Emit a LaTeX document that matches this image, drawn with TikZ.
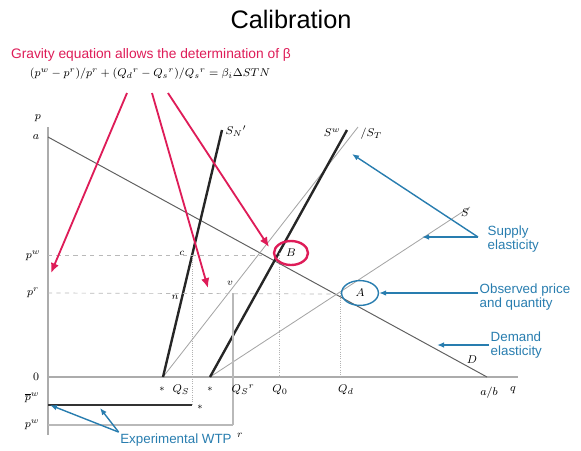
\documentclass[tikz,border=0pt]{standalone}
\usepackage{fontspec}
\setmainfont{Liberation Sans}
\usepackage{xcolor}
\usepackage{tikz}
\usetikzlibrary{arrows.meta,positioning,shapes.geometric,calc}

\definecolor{gravred}{RGB}{222,28,88}
\definecolor{noteblue}{RGB}{40,125,175}

\begin{document}
\begin{tikzpicture}[x=0.025cm, y=-0.025cm,
    axis/.style={draw=gray!65, line width=1.1pt},
    thickS/.style={draw=black!85, line width=1.7pt},
    thinS/.style={draw=gray!70, line width=0.6pt},
    demand/.style={draw=gray!75!black, line width=0.7pt},
    guide/.style={draw=gray!55, dashed, line width=0.5pt},
    drop/.style={draw=gray!60, densely dotted, line width=0.6pt},
    redarr/.style={-{Latex[length=7pt,width=6pt]}, draw=gravred, line width=1.3pt},
    bluearr/.style={-{Latex[length=5pt,width=4pt]}, draw=noteblue, line width=1pt},
    note/.style={text=noteblue, font=\fontsize{9.5}{10.5}\selectfont, align=left, inner sep=1pt},
    lab/.style={font=\footnotesize, inner sep=1pt},
    tiny/.style={font=\scriptsize, inner sep=1pt}
]
\useasboundingbox (0,0) rectangle (581,450);

% heading and gravity equation
\node[font=\fontsize{18}{20}\selectfont] (title) at (291,19) {Calibration};
\node[text=gravred, font=\fontsize{9.8}{11}\selectfont] (grav) at (151,55) {Gravity equation allows the determination of β};
\node[font=\fontsize{8.4}{10}\selectfont] (eq) at (150,74) {$(p^{w}-p^{r})/p^{r}+({Q_{d}}^{r}-{Q_{s}}^{r})/{Q_{s}}^{r}=\beta_{i}\Delta STN$};

% axes
\coordinate (ptop) at (48,127);
\coordinate (pbot) at (48,435);
\coordinate (O) at (48,377);
\coordinate (qend) at (518,377);
\draw[axis] (ptop) -- (pbot);
\draw[axis] (O) -- (qend);

\node[lab] (plab) at (38,118) {$p$};
\node[lab] (alab) at (36,137) {$a$};
\node[lab] (zero) at (36,377) {$0$};
\node[lab] (pwlab) at (33,256) {$p^{w}$};
\node[lab] (prlab) at (33,293) {$p^{r}$};
\node[lab] (pbarlab) at (32,398) {$\overline{p}^{w}$};
\node[lab] (pwlow) at (32,425) {$p^{w}$};

% demand and supply curves
\coordinate (Da) at (48,137);
\coordinate (Db) at (487,377);
\coordinate (SNb) at (163,377);
\coordinate (SNt) at (222,130);
\coordinate (Sb) at (210,377);
\coordinate (St) at (347,130);
\coordinate (STt) at (358,127);
\coordinate (SEt) at (470,207);
\draw[demand] (Da) -- (Db);
\draw[thinS] (SNb) -- (STt);
\draw[thinS] (Sb) -- (SEt);
\draw[thickS] (SNb) -- (SNt);
\draw[thickS] (Sb) -- (St);

\node[lab, anchor=west] (SNlab) at (224,131) {$S_{N}{}'$};
\node[lab, anchor=east] (Swlab) at (342,133) {$S^{w}$};
\node[lab, anchor=west] (STlab) at (359,134) {$/S_{T}$};
\node[lab] (Slab) at (465,213) {$S$};
\node[lab] (Dlab) at (472,360) {$D$};

% price levels and quantities
\coordinate (B) at (262,255);
\coordinate (A) at (335,294);
\coordinate (pwax) at (48,255);
\coordinate (prax) at (48,293);
\draw[guide] (pwax) -- (B);
\draw[guide] (prax) -- (A);
\draw[drop] (192,255) -- (192,405);
\draw[drop] (279,253) -- (279,377);
\draw[drop] (340,293) -- (340,377);
\draw[draw=gray!55, line width=0.8pt] (233,293) -- (233,425);

\node[tiny] (clab) at (182,253) {$c$};
\node[tiny] (vlab) at (230,283) {$v$};
\node[tiny] (nlab) at (175,297) {$n$};

\node[draw=gravred, line width=1.7pt, ellipse, minimum width=0.85cm, minimum height=0.6cm, font=\footnotesize, inner sep=0pt] (Bring) at (291,253) {$B$};
\node[draw=noteblue, line width=1pt, ellipse, minimum width=0.92cm, minimum height=0.62cm, font=\footnotesize, inner sep=0pt] (Aring) at (360,293) {$A$};

% quantity axis labels
\node[tiny] (st1) at (162,389) {$\ast$};
\node[lab] (QSlab) at (181,390) {$Q_{S}$};
\node[tiny] (st2) at (210,389) {$\ast$};
\node[lab] (QSrlab) at (243,390) {${Q_{S}}^{r}$};
\node[lab] (Q0lab) at (280,390) {$Q_{0}$};
\node[lab] (Qdlab) at (346,390) {$Q_{d}$};
\node[lab] (ablab) at (489,393) {$a/b$};
\node[lab] (qlab) at (513,390) {$q$};

% willingness to pay below the axis
\coordinate (wtpa) at (48,405);
\coordinate (wtpb) at (192,405);
\coordinate (wtpc) at (48,425);
\coordinate (wtpd) at (233,425);
\draw[draw=black!80, line width=1.5pt] (wtpa) -- (wtpb);
\draw[draw=gray!55, line width=1pt] (wtpc) -- (wtpd);
\node[tiny] (st3) at (200,407) {$\ast$};
\node[tiny] (rlab) at (240,435) {$r$};

% red arrows from the equation
\coordinate (r1) at (127,93);
\coordinate (r2) at (152,93);
\coordinate (r3) at (168,93);
\coordinate (e1) at (51,273);
\coordinate (e2) at (208,288);
\coordinate (e3) at (269,247);
\draw[redarr] (r1) -- (e1);
\draw[redarr] (r2) -- (e2);
\draw[redarr] (r3) -- (e3);

% blue notes
\node[note, anchor=west] (suptxt) at (486,239) {Supply\\elasticity};
\node[note, anchor=west] (obstxt) at (478,297) {Observed price\\and quantity};
\node[note, anchor=west] (demtxt) at (489,345) {Demand\\elasticity};
\node[note] (wtptxt) at (176,440) {Experimental WTP};

\coordinate (supTip) at (478,237);
\draw[bluearr] (supTip) -- (422,237);
\draw[bluearr] (supTip) -- (352,154);
\draw[bluearr] (478,293) -- (Aring.east);
\draw[bluearr] (demtxt.west) -- (437,345);
\draw[bluearr] (wtptxt.north west) -- (50,405);
\draw[bluearr] (wtptxt.north west) -- (100,408);
\end{tikzpicture}
\end{document}
